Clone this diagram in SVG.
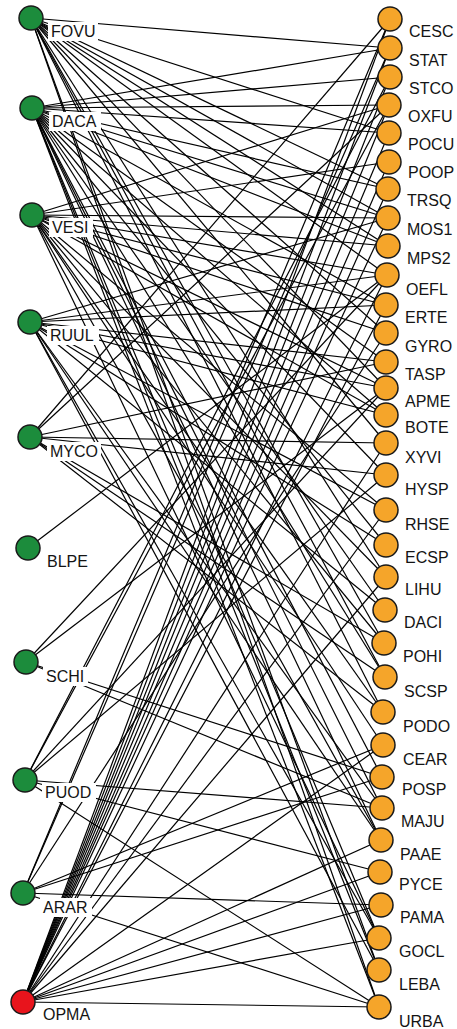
<svg xmlns="http://www.w3.org/2000/svg" width="457" height="1029" viewBox="0 0 457 1029">
<style>
.e line{stroke:#000;stroke-width:1.2}
.g{fill:#1c8c3c;stroke:#1a1a1a;stroke-width:1.5}
.o{fill:#f5a52a;stroke:#1a1a1a;stroke-width:1.5}
.r{fill:#e8141c;stroke:#1a1a1a;stroke-width:1.5}
text{font-family:"Liberation Sans",Arial,sans-serif;font-size:16px;fill:#141414}
.bg{fill:#fff}
</style>
<rect width="457" height="1029" fill="#fff"/>
<g id="edges" class="e">
<!-- FOVU -->
<line x1="31" y1="18" x2="390" y2="48"/><line x1="31" y1="18" x2="389" y2="133"/><line x1="31" y1="18" x2="388" y2="189"/><line x1="31" y1="18" x2="388" y2="218"/><line x1="31" y1="18" x2="388" y2="246"/><line x1="31" y1="18" x2="387" y2="275"/><line x1="31" y1="18" x2="386" y2="333"/><line x1="31" y1="18" x2="386" y2="388"/><line x1="31" y1="18" x2="386" y2="443"/><line x1="31" y1="18" x2="386" y2="577"/><line x1="31" y1="18" x2="384" y2="643"/><line x1="31" y1="18" x2="385" y2="677"/><line x1="31" y1="18" x2="383" y2="712"/><line x1="31" y1="18" x2="379" y2="970"/><line x1="31" y1="18" x2="379" y2="1007"/>
<!-- DACA -->
<line x1="32" y1="108" x2="390" y2="48"/><line x1="32" y1="108" x2="390" y2="77"/><line x1="32" y1="108" x2="389" y2="105"/><line x1="32" y1="108" x2="389" y2="133"/><line x1="32" y1="108" x2="388" y2="189"/><line x1="32" y1="108" x2="388" y2="218"/><line x1="32" y1="108" x2="388" y2="246"/><line x1="32" y1="108" x2="386" y2="305"/><line x1="32" y1="108" x2="386" y2="362"/><line x1="32" y1="108" x2="386" y2="415"/><line x1="32" y1="108" x2="386" y2="475"/><line x1="32" y1="108" x2="386" y2="545"/><line x1="32" y1="108" x2="385" y2="610"/><line x1="32" y1="108" x2="385" y2="677"/><line x1="32" y1="108" x2="382" y2="777"/><line x1="32" y1="108" x2="382" y2="808"/><line x1="32" y1="108" x2="381" y2="840"/><line x1="32" y1="108" x2="379" y2="938"/><line x1="32" y1="108" x2="379" y2="970"/><line x1="32" y1="108" x2="379" y2="1007"/>
<!-- VESI -->
<line x1="32" y1="215" x2="389" y2="105"/><line x1="32" y1="215" x2="389" y2="162"/><line x1="32" y1="215" x2="388" y2="218"/><line x1="32" y1="215" x2="388" y2="246"/><line x1="32" y1="215" x2="387" y2="275"/><line x1="32" y1="215" x2="386" y2="305"/><line x1="32" y1="215" x2="386" y2="333"/><line x1="32" y1="215" x2="386" y2="388"/><line x1="32" y1="215" x2="386" y2="415"/><line x1="32" y1="215" x2="386" y2="510"/><line x1="32" y1="215" x2="386" y2="577"/><line x1="32" y1="215" x2="384" y2="643"/><line x1="32" y1="215" x2="383" y2="712"/><line x1="32" y1="215" x2="383" y2="745"/><line x1="32" y1="215" x2="381" y2="840"/><line x1="32" y1="215" x2="379" y2="938"/>
<!-- RUUL -->
<line x1="30" y1="322" x2="388" y2="218"/><line x1="30" y1="322" x2="387" y2="275"/><line x1="30" y1="322" x2="386" y2="305"/><line x1="30" y1="322" x2="386" y2="362"/><line x1="30" y1="322" x2="386" y2="388"/><line x1="30" y1="322" x2="386" y2="415"/><line x1="30" y1="322" x2="386" y2="510"/><line x1="30" y1="322" x2="386" y2="545"/><line x1="30" y1="322" x2="385" y2="610"/><line x1="30" y1="322" x2="382" y2="808"/><line x1="30" y1="322" x2="381" y2="840"/><line x1="30" y1="322" x2="379" y2="938"/><line x1="30" y1="322" x2="379" y2="970"/>
<!-- MYCO -->
<line x1="30" y1="437" x2="390" y2="19"/><line x1="30" y1="437" x2="389" y2="105"/><line x1="30" y1="437" x2="386" y2="362"/><line x1="30" y1="437" x2="386" y2="443"/><line x1="30" y1="437" x2="386" y2="475"/><line x1="30" y1="437" x2="385" y2="677"/><line x1="30" y1="437" x2="383" y2="712"/><line x1="30" y1="437" x2="384" y2="643"/>
<!-- BLPE -->
<line x1="28" y1="548" x2="387" y2="275"/>
<!-- SCHI -->
<line x1="26" y1="662" x2="387" y2="275"/><line x1="26" y1="662" x2="386" y2="388"/><line x1="26" y1="662" x2="382" y2="777"/><line x1="26" y1="662" x2="382" y2="808"/>
<!-- PUOD -->
<line x1="25" y1="780" x2="390" y2="77"/><line x1="25" y1="780" x2="389" y2="105"/><line x1="25" y1="780" x2="386" y2="388"/><line x1="25" y1="780" x2="386" y2="475"/><line x1="25" y1="780" x2="382" y2="808"/><line x1="25" y1="780" x2="380" y2="872"/><line x1="25" y1="780" x2="379" y2="1007"/>
<!-- ARAR -->
<line x1="23" y1="893" x2="390" y2="19"/><line x1="23" y1="893" x2="390" y2="48"/><line x1="23" y1="893" x2="386" y2="333"/><line x1="23" y1="893" x2="383" y2="745"/><line x1="23" y1="893" x2="382" y2="777"/><line x1="23" y1="893" x2="381" y2="905"/><line x1="23" y1="893" x2="379" y2="1007"/>
<!-- OPMA -->
<line x1="23" y1="1002" x2="390" y2="19"/><line x1="23" y1="1002" x2="390" y2="48"/><line x1="23" y1="1002" x2="390" y2="77"/><line x1="23" y1="1002" x2="389" y2="105"/><line x1="23" y1="1002" x2="389" y2="133"/><line x1="23" y1="1002" x2="389" y2="162"/><line x1="23" y1="1002" x2="388" y2="189"/><line x1="23" y1="1002" x2="388" y2="218"/><line x1="23" y1="1002" x2="386" y2="305"/><line x1="23" y1="1002" x2="387" y2="275"/><line x1="23" y1="1002" x2="386" y2="443"/><line x1="23" y1="1002" x2="386" y2="510"/><line x1="23" y1="1002" x2="386" y2="577"/><line x1="23" y1="1002" x2="383" y2="745"/><line x1="23" y1="1002" x2="381" y2="840"/><line x1="23" y1="1002" x2="380" y2="872"/><line x1="23" y1="1002" x2="381" y2="905"/><line x1="23" y1="1002" x2="379" y2="938"/><line x1="23" y1="1002" x2="379" y2="1007"/>
</g>
<g id="FOVU"><circle class="g" cx="31" cy="18" r="12"/><rect class="bg" x="48" y="22" width="50" height="19"/><text x="51" y="37">FOVU</text></g>
<g id="DACA"><circle class="g" cx="32" cy="108" r="12"/><rect class="bg" x="49" y="112" width="52" height="19"/><text x="52" y="127">DACA</text></g>
<g id="VESI"><circle class="g" cx="32" cy="215" r="12"/><rect class="bg" x="49" y="218" width="44" height="19"/><text x="52" y="233">VESI</text></g>
<g id="RUUL"><circle class="g" cx="30" cy="322" r="12"/><rect class="bg" x="47" y="326" width="52" height="19"/><text x="50" y="341">RUUL</text></g>
<g id="MYCO"><circle class="g" cx="30" cy="437" r="12"/><rect class="bg" x="47" y="442" width="54" height="19"/><text x="50" y="457">MYCO</text></g>
<g id="BLPE"><circle class="g" cx="28" cy="548" r="12"/><rect class="bg" x="44" y="552" width="48" height="19"/><text x="47" y="567">BLPE</text></g>
<g id="SCHI"><circle class="g" cx="26" cy="662" r="12"/><rect class="bg" x="43" y="667" width="45" height="19"/><text x="46" y="682">SCHI</text></g>
<g id="PUOD"><circle class="g" cx="25" cy="780" r="12"/><rect class="bg" x="42" y="783" width="54" height="19"/><text x="45" y="798">PUOD</text></g>
<g id="ARAR"><circle class="g" cx="23" cy="893" r="12"/><rect class="bg" x="40" y="898" width="52" height="19"/><text x="43" y="913">ARAR</text></g>
<g id="OPMA"><circle class="r" cx="23" cy="1002" r="12"/><rect class="bg" x="40" y="1005" width="54" height="19"/><text x="43" y="1020">OPMA</text></g>
<g id="CESC"><circle class="o" cx="390" cy="19" r="12"/><text x="409" y="37">CESC</text></g>
<g id="STAT"><circle class="o" cx="390" cy="48" r="12"/><text x="409" y="66">STAT</text></g>
<g id="STCO"><circle class="o" cx="390" cy="77" r="12"/><text x="409" y="94">STCO</text></g>
<g id="OXFU"><circle class="o" cx="389" cy="105" r="12"/><text x="408" y="122">OXFU</text></g>
<g id="POCU"><circle class="o" cx="389" cy="133" r="12"/><text x="408" y="150">POCU</text></g>
<g id="POOP"><circle class="o" cx="389" cy="162" r="12"/><text x="408" y="178">POOP</text></g>
<g id="TRSQ"><circle class="o" cx="388" cy="189" r="12"/><text x="407" y="206">TRSQ</text></g>
<g id="MOS1"><circle class="o" cx="388" cy="218" r="12"/><text x="407" y="235">MOS1</text></g>
<g id="MPS2"><circle class="o" cx="388" cy="246" r="12"/><text x="407" y="264">MPS2</text></g>
<g id="OEFL"><circle class="o" cx="387" cy="275" r="12"/><text x="406" y="295">OEFL</text></g>
<g id="ERTE"><circle class="o" cx="386" cy="305" r="12"/><text x="405" y="323">ERTE</text></g>
<g id="GYRO"><circle class="o" cx="386" cy="333" r="12"/><text x="405" y="352">GYRO</text></g>
<g id="TASP"><circle class="o" cx="386" cy="362" r="12"/><text x="405" y="380">TASP</text></g>
<g id="APME"><circle class="o" cx="386" cy="388" r="12"/><text x="405" y="407">APME</text></g>
<g id="BOTE"><circle class="o" cx="386" cy="415" r="12"/><text x="405" y="433">BOTE</text></g>
<g id="XYVI"><circle class="o" cx="386" cy="443" r="12"/><text x="405" y="463">XYVI</text></g>
<g id="HYSP"><circle class="o" cx="386" cy="475" r="12"/><text x="405" y="495">HYSP</text></g>
<g id="RHSE"><circle class="o" cx="386" cy="510" r="12"/><text x="405" y="530">RHSE</text></g>
<g id="ECSP"><circle class="o" cx="386" cy="545" r="12"/><text x="405" y="563">ECSP</text></g>
<g id="LIHU"><circle class="o" cx="386" cy="577" r="12"/><text x="405" y="595">LIHU</text></g>
<g id="DACI"><circle class="o" cx="385" cy="610" r="12"/><text x="404" y="628">DACI</text></g>
<g id="POHI"><circle class="o" cx="384" cy="643" r="12"/><text x="403" y="662">POHI</text></g>
<g id="SCSP"><circle class="o" cx="385" cy="677" r="12"/><text x="404" y="697">SCSP</text></g>
<g id="PODO"><circle class="o" cx="383" cy="712" r="12"/><text x="403" y="732">PODO</text></g>
<g id="CEAR"><circle class="o" cx="383" cy="745" r="12"/><text x="403" y="765">CEAR</text></g>
<g id="POSP"><circle class="o" cx="382" cy="777" r="12"/><text x="402" y="795">POSP</text></g>
<g id="MAJU"><circle class="o" cx="382" cy="808" r="12"/><text x="401" y="827">MAJU</text></g>
<g id="PAAE"><circle class="o" cx="381" cy="840" r="12"/><text x="400" y="860">PAAE</text></g>
<g id="PYCE"><circle class="o" cx="380" cy="872" r="12"/><text x="399" y="890">PYCE</text></g>
<g id="PAMA"><circle class="o" cx="381" cy="905" r="12"/><text x="400" y="923">PAMA</text></g>
<g id="GOCL"><circle class="o" cx="379" cy="938" r="12"/><text x="399" y="957">GOCL</text></g>
<g id="LEBA"><circle class="o" cx="379" cy="970" r="12"/><text x="399" y="990">LEBA</text></g>
<g id="URBA"><circle class="o" cx="379" cy="1007" r="12"/><text x="399" y="1027">URBA</text></g>
</svg>
